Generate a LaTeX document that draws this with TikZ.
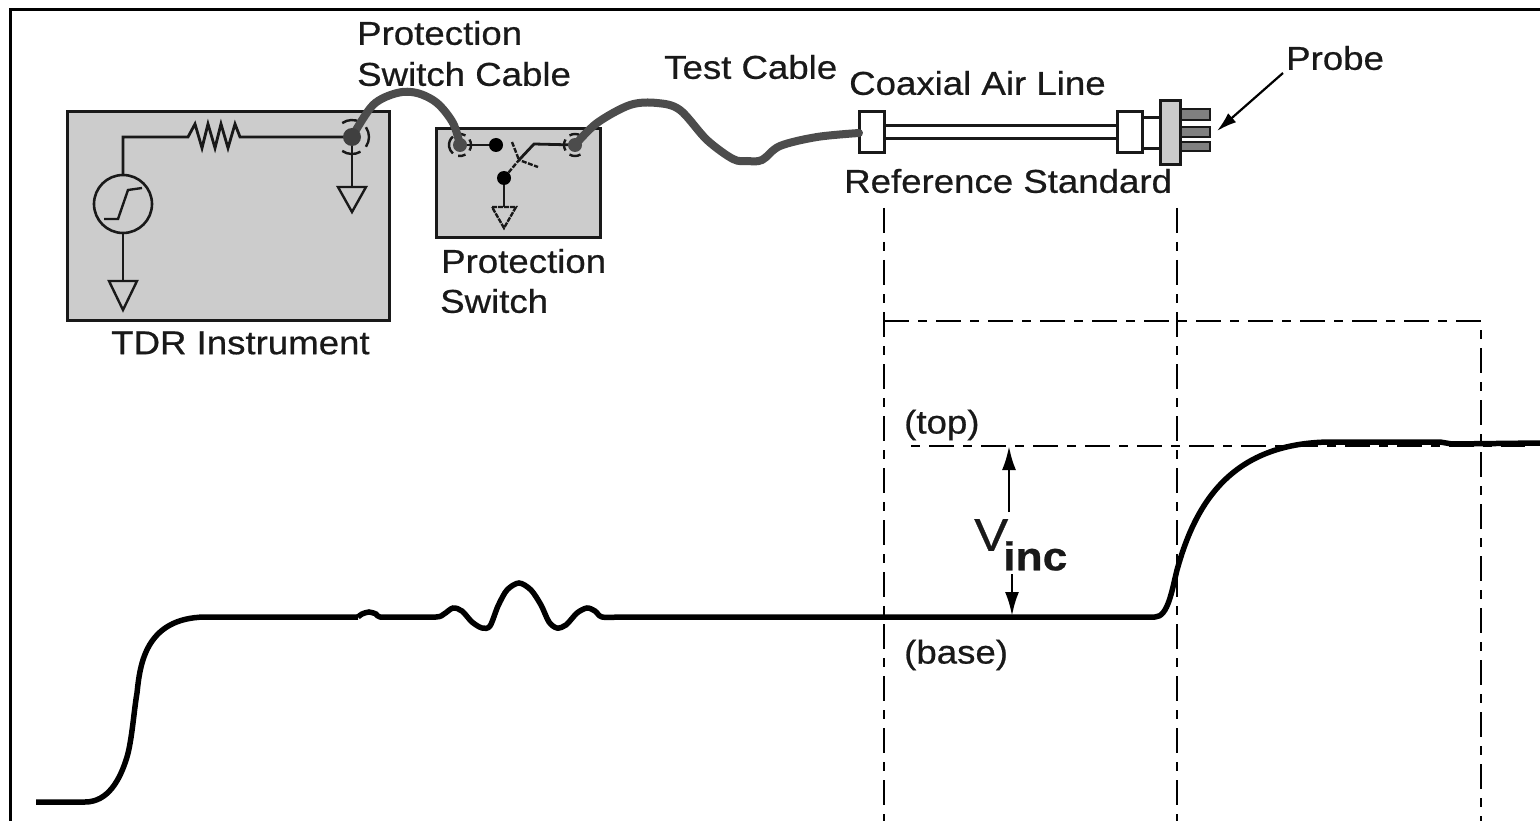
\documentclass[tikz,border=0pt]{standalone}
\usepackage{fontspec}
\setmainfont[FakeStretch=1.11,FakeBold=0.6]{Liberation Sans}
\usetikzlibrary{arrows.meta}
\tikzset{
  x=1pt,y=-1pt,
  lbl/.style={inner sep=0pt,anchor=west,font=\fontsize{33}{38}\selectfont,text=black!90},
  box/.style={draw=black!90,line width=3pt,fill=black!20,outer sep=0pt,inner sep=0pt},
  thin wire/.style={draw=black!90,line width=2.8pt},
  gnd/.style={draw=black!90,line width=2.4pt},
  ring/.style={draw=black!90,line width=2.4pt},
  cable/.style={draw=black!70,line width=8pt,line cap=round},
  dd/.style={draw=black,line width=2.6pt,dash pattern=on 25pt off 9pt on 9pt off 9pt},
  trace/.style={draw=black,line width=5.5pt},
  part/.style={draw=black!90,line width=3pt,fill=white,outer sep=0pt,inner sep=0pt},
  pin/.style={draw=black!90,line width=2.6pt,fill=black!50},
  blob/.style={fill=#1,circle,inner sep=0pt,outer sep=0pt},
}
\newcommand{\gndsym}[4]{\draw[gnd,fill=none] (#1-#3,#2) -- (#1+#3,#2) -- (#1,#2+#4) -- cycle;}
\begin{document}
\begin{tikzpicture}
\useasboundingbox (0,0) rectangle (1540,821);
\fill[white] (0,0) rectangle (1540,821);
\draw[draw=black,line width=3pt] (10,821) -- (10,10) -- (1540,10);
% boxes
\node[box,minimum width=322pt,minimum height=208pt,anchor=north west] (tdr) at (67,112) {};
\node[box,minimum width=164pt,minimum height=109pt,anchor=north west] (sw) at (436,129) {};
% TDR internals
\node[draw=black!90,line width=2.6pt,circle,minimum size=58pt,inner sep=0pt,outer sep=0pt] (src) at (123,204) {};
\draw[gnd] (104,219) -- (118,219) -- (128,190) -- (142,188);
\coordinate (g1) at (124,281);
\coordinate (g2) at (352,187);
\coordinate (jt) at (352,137);
\draw[thin wire] (src.north) -- (123,137) -- (188,137) -- (195,124) -- (202,148) -- (208,124) -- (215,148) -- (221,124) -- (228,148) -- (235,124) -- (240,137) -- (jt);
\draw[thin wire] (src.south) -- (123,281);
\gndsym{123}{281}{14}{29}
\draw[thin wire] (jt) -- (g2);
\gndsym{352}{187}{14}{25}
\draw[ring] (jt) ++(125:17pt) arc[start angle=125,end angle=60,radius=17pt];
\draw[ring] (jt) ++(35:17pt) arc[start angle=35,end angle=-35,radius=17pt];
\draw[ring] (jt) ++(-60:17pt) arc[start angle=-60,end angle=-125,radius=17pt];
% switch internals
\coordinate (ja) at (460,145);
\coordinate (jb) at (575,145);
\node[blob=black,minimum size=14pt] (d1) at (496,145) {};
\node[blob=black,minimum size=14pt] (d2) at (504,178) {};
\draw[ring] (ja) ++(100:11pt) arc[start angle=100,end angle=60,radius=11pt];
\draw[ring] (ja) ++(30:11pt) arc[start angle=30,end angle=-30,radius=11pt];
\draw[ring] (ja) ++(-60:11pt) arc[start angle=-60,end angle=-100,radius=11pt];
\draw[ring] (ja) ++(130:11pt) arc[start angle=130,end angle=230,radius=11pt];
\draw[ring] (jb) ++(120:11pt) arc[start angle=120,end angle=60,radius=11pt];
\draw[ring] (jb) ++(150:11pt) arc[start angle=150,end angle=210,radius=11pt];
\draw[ring] (jb) ++(-60:11pt) arc[start angle=-60,end angle=-120,radius=11pt];
\draw[thin wire] (ja) -- (d1);
\draw[thin wire] (jb) -- (534,144) -- (519,160);
\draw[gnd,dash pattern=on 5pt off 1.5pt] (512,142) -- (519,160);
\draw[gnd,dash pattern=on 5pt off 1.5pt] (d2) -- (519,160) -- (538,167);
\draw[thin wire] (d2) -- (504,207);
\draw[gnd,dash pattern=on 5pt off 1pt] (492,207) -- (516,207) -- (504,228) -- cycle;
% air line
\coordinate (c0) at (859,133);
\draw[part] (884,126) rectangle (1117,139);
\node[part,minimum width=25pt,minimum height=41pt] (c1) at (871.5,132.5) {};
\node[part,minimum width=25pt,minimum height=41pt] (c2) at (1129.5,132.5) {};
\draw[part] (1142,118) rectangle (1160,149);
\draw[pin] (1180,109) rectangle (1210,120);
\draw[pin] (1180,127) rectangle (1210,137);
\draw[pin] (1180,142) rectangle (1210,151);
\node[box,minimum width=20pt,minimum height=64pt] (pb) at (1170,133) {};
% cables
\draw[cable] plot[smooth,tension=0.55] coordinates {(jt) (373,105) (397,93) (417,93) (437,103) (453,123) (ja)};
\draw[cable] plot[smooth,tension=0.55] coordinates {(jb) (597,123) (630,105) (657,103) (680,110) (707,140) (733,159) (747,161) (762,160) (780,146) (817,137) (c0)};
\node[blob=black!75,minimum size=18pt] (b1) at (jt) {};
\node[blob=black!70,minimum size=14pt] (b2) at (ja) {};
\node[blob=black!70,minimum size=14pt] (b3) at (jb) {};
% probe label and arrow
\node[lbl] (probe) at (1286,58) {Probe};
\coordinate (pk) at (1283,73);
\coordinate (pt) at (1217,131);
\draw[draw=black,line width=2.2pt,-{Latex[length=20pt,width=12pt]}] (pk) -- (pt);
% dash-dot lines
\coordinate (v1t) at (884,208);
\coordinate (v1b) at (884,821);
\coordinate (v2t) at (1177,208);
\coordinate (v2b) at (1177,821);
\coordinate (v3t) at (1481,321);
\coordinate (v3b) at (1481,821);
\coordinate (h1a) at (884,321);
\coordinate (h2a) at (911,446);
\coordinate (h2b) at (1525,446);
\draw[dd] (v1t) -- (v1b);
\draw[dd] (v2t) -- (v2b);
\draw[dd] (h1a) -- (v3t) -- (v3b);
\draw[dd,dash phase=34pt] (h2a) -- (h2b);
% trace
\draw[trace,line join=round] (36,802) -- (85,802) .. controls (108,802) and (120,780) .. (127,757) .. controls (132,740) and (134,710) .. (137,693) .. controls (140,665) and (145,618) .. (205,617) -- (358,617);
\draw[trace] plot[smooth,tension=0.5] coordinates {(358,617) (362,614) (369,612) (376,614) (380,617) (400,617) (436,617) (444,614) (453,608) (462,611) (472,622) (482,628) (490,626) (498,606) (507,590) (519,583) (531,590) (541,605) (549,622) (557,628) (566,625) (577,613) (587,608) (595,611) (602,617) (620,617)};
\draw[trace,line join=round] (620,617) -- (1155,617) .. controls (1168,617) and (1172,590) .. (1177,570) .. controls (1195,505) and (1230,443) .. (1330,442) -- (1440,442) -- (1452,444) -- (1540,443);
% Vinc arrows
\coordinate (vt) at (1009,446);
\coordinate (vb) at (1012,616);
\coordinate (va) at (1009,512);
\coordinate (vc) at (1012,574);
\draw[draw=black,line width=2.8pt,-{Latex[length=24pt,width=14pt]}] (va) -- (vt);
\draw[draw=black,line width=2.8pt,-{Latex[length=24pt,width=14pt]}] (vc) -- (vb);
\node[inner sep=0pt,anchor=west,font=\fontsize{46}{50}\selectfont,text=black!90] (vinc) at (974,535) {V};
\node[inner sep=0pt,anchor=west,font=\fontsize{40}{50}\bfseries\selectfont,text=black!90] (inc) at (1003,556) {inc};
% labels
\node[lbl] (l1) at (357,33) {Protection};
\node[lbl] (l2) at (357,74) {Switch Cable};
\node[lbl] (l3) at (664,67) {Test Cable};
\node[lbl] (l4) at (849,83) {Coaxial Air Line};
\node[lbl] (l5) at (844,181) {Reference Standard};
\node[lbl] (l6) at (441,261) {Protection};
\node[lbl] (l7) at (440,301) {Switch};
\node[lbl] (l8) at (111,343) {TDR Instrument};
\node[lbl] (l9) at (904,425) {(top)};
\node[lbl] (l10) at (904,655) {(base)};
\end{tikzpicture}
\end{document}
